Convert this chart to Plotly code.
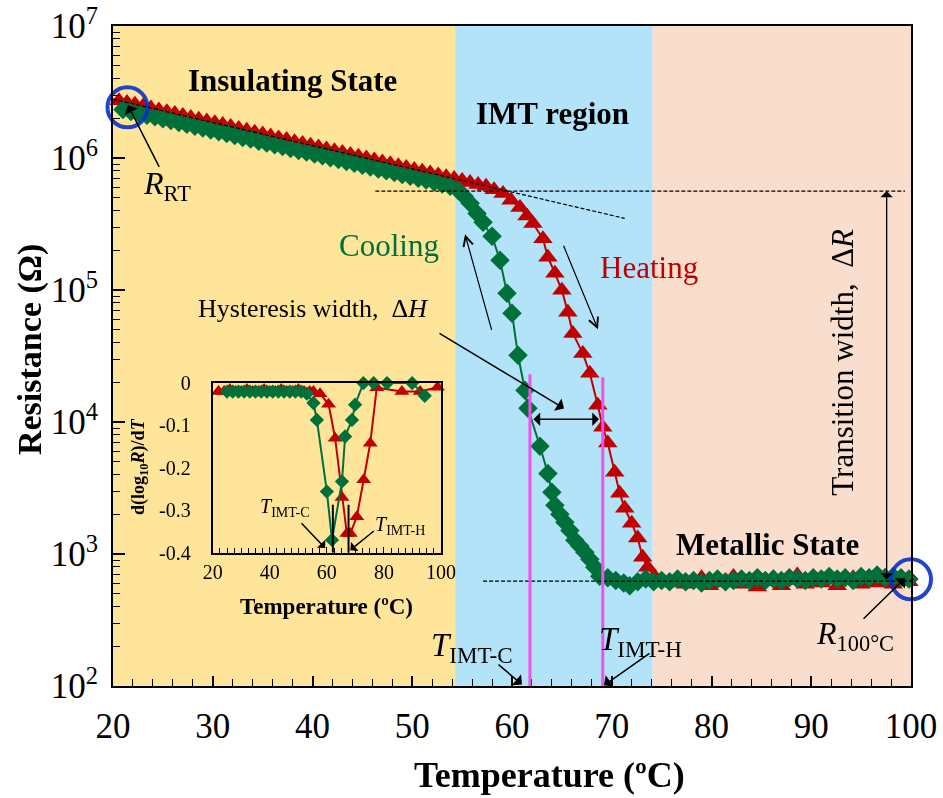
import numpy as np
import plotly.graph_objects as go

SERIF = "Liberation Serif"
RED = "#C00000"
GREEN = "#00703A"
BLUE = "#0A2FCC"
MAGENTA = "#F050F0"

# ---------------- main data: resistance vs temperature ----------------
heat_T = [20.6, 21.4, 22.2, 23.0, 23.8, 24.6, 25.4, 26.2, 27.0, 27.8, 28.6, 29.4,
          30.2, 31.0, 31.8, 32.6, 33.4, 34.2, 35.0, 35.8, 36.6, 37.4, 38.2, 39.0,
          39.8, 40.6, 41.4, 42.2, 43.0, 43.8, 44.6, 45.4, 46.2, 47.0, 47.8, 48.6,
          49.4, 50.2, 51.0, 51.8, 52.6, 53.4, 54.2, 55.0, 55.8, 56.6, 57.4, 58.2,
          59.1, 59.9, 60.8, 61.5, 62.1, 63.1, 63.6, 64.3, 65.0, 65.6, 66.1, 67.1,
          67.8, 68.6, 69.1, 69.6, 70.3, 70.8, 71.3, 72.0, 72.6, 73.1, 73.6, 74.3,
          75.0, 75.8, 76.6, 77.4, 78.2, 79.0, 79.8, 80.6, 81.4, 82.2, 83.0, 83.8,
          84.6, 85.4, 86.2, 87.0, 87.8, 88.6, 89.4, 90.2, 91.0, 91.8, 92.6, 93.4,
          94.2, 95.0, 95.8, 96.6, 97.4, 98.2, 99.0, 99.8]
heat_R = [2.72e6, 2.63e6, 2.55e6, 2.47e6, 2.39e6, 2.31e6, 2.24e6, 2.17e6, 2.10e6, 2.03e6, 1.97e6, 1.91e6,
          1.85e6, 1.79e6, 1.73e6, 1.67e6, 1.62e6, 1.57e6, 1.52e6, 1.47e6, 1.42e6, 1.38e6, 1.33e6, 1.29e6,
          1.25e6, 1.21e6, 1.17e6, 1.135e6, 1.10e6, 1.064e6, 1.03e6, 9.98e5, 9.65e5, 9.34e5, 9.04e5, 8.75e5,
          8.47e5, 8.20e5, 7.94e5, 7.69e5, 7.45e5, 7.21e5, 6.98e5, 6.76e5, 6.53e5, 6.31e5, 6.10e5, 5.75e5,
          5.38e5, 4.79e5, 4.22e5, 3.63e5, 3.19e5, 2.45e5, 1.77e5, 1.34e5, 9.95e4, 6.78e4, 4.68e4, 3.31e4,
          2.34e4, 1.34e4, 9.12e3, 6.92e3, 4.17e3, 2.89e3, 2.22e3, 1.71e3, 1.32e3, 946, 794, 676,
          631, 603, 646, 589, 617, 661, 575, 631, 603, 676, 589, 631,
          562, 617, 661, 575, 631, 692, 589, 646, 603, 676, 575, 631,
          661, 589, 646, 603, 676, 589, 631, 617]

cool_T = [21.0, 21.8, 22.6, 23.4, 24.2, 25.0, 25.8, 26.6, 27.4, 28.2, 29.0, 29.8,
          30.6, 31.4, 32.2, 33.0, 33.8, 34.6, 35.4, 36.2, 37.0, 37.8, 38.6, 39.4,
          40.2, 41.0, 41.8, 42.6, 43.4, 44.2, 45.0, 45.8, 46.6, 47.4, 48.2, 49.0,
          49.8, 50.6, 51.4, 52.2, 53.0, 53.8, 54.6, 55.2, 55.8, 56.5, 57.1, 58.0,
          58.8, 59.5, 60.0, 60.6, 61.3, 61.6, 62.8, 63.6, 64.0, 64.3, 64.8, 65.3,
          65.8, 66.3, 66.8, 67.3, 67.8, 68.3, 68.8, 69.6, 70.4, 71.2, 71.8, 72.6,
          73.4, 74.2, 75.0, 75.8, 76.6, 77.4, 78.2, 79.0, 79.8, 80.6, 81.4, 82.2,
          83.0, 83.8, 84.6, 85.4, 86.2, 87.0, 87.8, 88.6, 89.4, 90.2, 91.0, 91.8,
          92.6, 93.4, 94.2, 95.0, 95.8, 96.6, 97.4, 98.2, 99.0, 99.8]
cool_R = [2.33e6, 2.25e6, 2.18e6, 2.11e6, 2.05e6, 1.98e6, 1.92e6, 1.86e6, 1.80e6, 1.74e6, 1.69e6, 1.63e6,
          1.58e6, 1.53e6, 1.48e6, 1.43e6, 1.39e6, 1.34e6, 1.30e6, 1.26e6, 1.22e6, 1.18e6, 1.14e6, 1.11e6,
          1.07e6, 1.04e6, 1.005e6, 9.73e5, 9.42e5, 9.12e5, 8.83e5, 8.54e5, 8.27e5, 8.00e5, 7.75e5, 7.50e5,
          7.26e5, 7.03e5, 6.80e5, 6.58e5, 6.34e5, 6.10e5, 5.69e5, 5.13e5, 4.54e5, 3.80e5, 3.26e5, 2.55e5,
          1.68e5, 9.44e4, 6.67e4, 3.20e4, 1.74e4, 1.27e4, 6.55e3, 4.08e3, 2.93e3, 2.34e3, 2.00e3, 1.74e3,
          1.51e3, 1.27e3, 1.15e3, 1.03e3, 914, 794, 679, 661, 631, 603, 575, 617,
          646, 617, 631, 617, 646, 617, 631, 603, 631, 646, 617, 631,
          646, 631, 661, 631, 646, 631, 661, 646, 631, 661, 646, 676,
          646, 661, 631, 676, 661, 692, 661, 676, 661, 646]

# ---------------- inset data: d(log10 R)/dT ----------------
dheat_T = [22, 24, 26, 28, 30, 32, 34, 36, 38, 40, 42, 44, 46, 48, 50, 52, 54,
           55.3, 57.6, 60.6, 62.9, 65.3, 67.0, 68.2, 70.5, 72.9, 75.2, 77.5,
           86.3, 92.7, 98.8]
dheat_v = [-0.02, -0.02, -0.015, -0.02, -0.02, -0.015, -0.02, -0.02, -0.015, -0.02, -0.02, -0.015,
           -0.02, -0.02, -0.015, -0.02, -0.02,
           -0.02, -0.025, -0.05, -0.13, -0.27, -0.355, -0.355, -0.315, -0.228, -0.142, -0.011,
           -0.02, -0.02, -0.01]
dcool_T = [25, 27, 29, 31, 33, 35, 37, 39, 41, 43, 45, 47, 49, 51, 53,
           55.3, 56.5, 60.0, 61.8, 65.3, 66.4, 68.8, 69.9, 72.8, 76.4, 81.1, 89.9, 94.3]
dcool_v = [-0.02, -0.02, -0.02, -0.02, -0.02, -0.02, -0.02, -0.02, -0.02, -0.02, -0.02, -0.02,
           -0.02, -0.02, -0.025,
           -0.047, -0.087, -0.256, -0.37, -0.232, -0.126, -0.087, -0.051, 0.0, 0.0, 0.0, 0.0, -0.03]

# ---------------- reference values used by the annotations ----------------
REGIONS = [(20.0, 54.3, "#FFE599"), (54.3, 74.1, "#B2E3F8"), (74.1, 100.0, "#FADECD")]
FIT_T = [20.0, 71.3]
FIT_R = [2.79e6, 3.49e5]
R_TOP = 5.62e5          # upper level of transition width
R_BOTTOM = 624          # metallic level
T_IMT_C, T_IMT_H = 61.8, 69.1
T_INSET_C, T_INSET_H = 62.1, 67.6
RT_POINT = (21.45, 2.42e6)
R100_POINT = (100.0, 643)
X_TICKS = [20, 30, 40, 50, 60, 70, 80, 90, 100]
Y_EXPONENTS = [2, 3, 4, 5, 6, 7]
Y_TICKS = [10.0 ** e for e in Y_EXPONENTS]
Y_TEXT = ["10<sup>%d</sup>" % e for e in Y_EXPONENTS]
Y_MINOR = [m * 10.0 ** e for e in Y_EXPONENTS[:-1] for m in range(2, 10)]
INSET_X_TICKS = [20, 40, 60, 80, 100]
INSET_Y_TICKS = [0, -0.1, -0.2, -0.3, -0.4]
INSET_Y_TEXT = ["0", "-0.1", "-0.2", "-0.3", "-0.4"]

lg = np.log10
fig = go.Figure()

# main curves
fig.add_trace(go.Scatter(x=heat_T, y=heat_R, mode="lines+markers", cliponaxis=False,
                         line=dict(color=RED, width=2),
                         marker=dict(symbol="triangle-up", size=17, color=RED),
                         xaxis="x", yaxis="y", showlegend=False))
fig.add_trace(go.Scatter(x=cool_T, y=cool_R, mode="lines+markers", cliponaxis=False,
                         line=dict(color=GREEN, width=2),
                         marker=dict(symbol="diamond", size=15, color=GREEN),
                         xaxis="x", yaxis="y", showlegend=False))
# circled reference points
fig.add_trace(go.Scatter(x=[RT_POINT[0], R100_POINT[0]], y=[RT_POINT[1], R100_POINT[1]],
                         mode="markers", cliponaxis=False,
                         marker=dict(symbol="circle-open", size=40, color=BLUE,
                                     line=dict(width=4, color=BLUE)),
                         opacity=0.9, xaxis="x", yaxis="y", showlegend=False))

# inset curves
fig.add_trace(go.Scatter(x=dheat_T, y=dheat_v, mode="lines+markers", cliponaxis=False,
                         line=dict(color=RED, width=2),
                         marker=dict(symbol="triangle-up", size=13, color=RED),
                         xaxis="x2", yaxis="y2", showlegend=False))
fig.add_trace(go.Scatter(x=dcool_T, y=dcool_v, mode="lines+markers", cliponaxis=False,
                         line=dict(color=GREEN, width=2),
                         marker=dict(symbol="diamond", size=11, color=GREEN),
                         xaxis="x2", yaxis="y2", showlegend=False))

shapes = []
for x0, x1, col in REGIONS:
    shapes.append(dict(type="rect", xref="x", yref="y", x0=x0, x1=x1, y0=1e2, y1=1e7,
                       fillcolor=col, line=dict(width=0), layer="below"))
dash = dict(color="black", width=1.2, dash="4px,2px")
shapes += [
    dict(type="line", xref="x", yref="y", x0=FIT_T[0], x1=FIT_T[1], y0=FIT_R[0], y1=FIT_R[1], line=dash),
    dict(type="line", xref="x", yref="y", x0=46.3, x1=99.4, y0=R_TOP, y1=R_TOP, line=dash),
    dict(type="line", xref="x", yref="y", x0=57.1, x1=100, y0=R_BOTTOM, y1=R_BOTTOM, line=dash),
    dict(type="line", xref="x", yref="y", x0=T_IMT_C, x1=T_IMT_C, y0=1e2, y1=2.3e4,
         line=dict(color=MAGENTA, width=3)),
    dict(type="line", xref="x", yref="y", x0=T_IMT_H, x1=T_IMT_H, y0=1e2, y1=2.18e4,
         line=dict(color=MAGENTA, width=3)),
    dict(type="line", xref="x2", yref="y2", x0=T_INSET_C, x1=T_INSET_C, y0=-0.4, y1=-0.287,
         line=dict(color="black", width=2)),
    dict(type="line", xref="x2", yref="y2", x0=T_INSET_H, x1=T_INSET_H, y0=-0.4, y1=-0.287,
         line=dict(color="black", width=2)),
]

ann = []


def text(x, y, s, size, color="black", ref=("x", "y"), angle=0):
    ann.append(dict(x=x, y=y, xref=ref[0], yref=ref[1], text=s, showarrow=False,
                    xanchor="center", yanchor="middle", textangle=angle,
                    font=dict(family=SERIF, size=size, color=color)))


def arrow(hx, hy, tx, ty, ref=("x", "y"), head=1, size=1.0, width=1.5, both=False):
    a = dict(x=hx, y=hy, ax=tx, ay=ty, xref=ref[0], yref=ref[1], axref=ref[0], ayref=ref[1],
             text="", showarrow=True, arrowhead=head, arrowsize=size, arrowwidth=width,
             arrowcolor="black", standoff=0, startstandoff=0)
    if both:
        a.update(arrowside="end+start", startarrowhead=head, startarrowsize=size)
    ann.append(a)


NB = "\u00a0"
text(37.95, 6.589, "<b>Insulating State</b>", 31)
text(64.1, 6.339, "<b>IMT region</b>", 31)
text(85.6, 3.07, "<b>Metallic State</b>", 31)
text(47.67, 5.337, "Cooling", 31, GREEN)
text(73.73, 5.171, "Heating", 31, RED)
text(40.05, 4.86, "Hysteresis width," + NB + NB + "Δ<i>H</i>", 26)
text(25.46, 5.79, "<i>R</i><sub>RT</sub>", 32)
text(94.4, 2.38, "<i>R</i><sub>100°C</sub>", 32)
text(56.0, 2.29, "<i>T</i><sub>IMT-C</sub>", 33)
text(72.85, 2.34, "<i>T</i><sub>IMT-H</sub>", 33)
text(93.1, 4.45, "Transition width," + NB + NB + "Δ<i>R</i>", 31, angle=-90)
text(45.4, -0.294, "<i>T</i><sub>IMT-C</sub>", 20, ref=("x2", "y2"))
text(85.8, -0.337, "<i>T</i><sub>IMT-H</sub>", 20, ref=("x2", "y2"))

arrow(21.5, 6.399, 24.71, 5.922, size=1.6)
arrow(99.4, 2.816, 95.09, 2.498, size=1.6)
arrow(61.0, 2.012, 58.5, 2.171, size=1.6)
arrow(69.22, 2.005, 73.93, 2.255, size=1.6)
arrow(65.21, 4.103, 52.58, 4.679, size=1.6)
arrow(55.29, 5.422, 58.0, 4.687, head=5, size=1.6, width=1.2)
arrow(68.62, 4.702, 65.11, 5.346, head=5, size=1.6, width=1.2)
arrow(97.56, lg(R_TOP), 97.56, lg(R_BOTTOM), size=1.6, width=1.3, both=True)
arrow(68.72, 4.02, 62.0, 4.02, size=1.5, width=1.5, both=True)
arrow(59.4, -0.389, 50.6, -0.327, ref=("x2", "y2"), size=1.3)
arrow(68.2, -0.394, 77.0, -0.346, ref=("x2", "y2"), size=1.3)


def paper_text(x, y, s, size, angle=0):
    ann.append(dict(x=x, y=y, xref="paper", yref="paper", showarrow=False, text=s,
                    xanchor="center", yanchor="middle", textangle=angle,
                    font=dict(family=SERIF, size=size, color="black")))


# axis titles
paper_text(0.5476, -0.1348, "<b>Temperature (ºC)</b>", 36)
paper_text(-0.104, 0.509, "<b>Resistance (Ω)</b>", 34, angle=-90)
paper_text(0.268, 0.1197, "<b>Temperature (ºC)</b>", 23)
paper_text(0.034, 0.332, "<b>d(log<sub>10</sub><i>R</i>)/d<i>T</i></b>", 18, angle=-90)

axis_font = dict(family=SERIF, size=35, color="black")
fig.update_layout(
    width=943, height=798,
    margin=dict(l=113, r=32, t=26, b=112, autoexpand=False),
    paper_bgcolor="white", plot_bgcolor="rgba(0,0,0,0)",
    shapes=shapes, annotations=ann,
    xaxis=dict(domain=[0, 1], range=[20, 100], tickmode="array", tickvals=X_TICKS,
               ticks="inside", ticklen=10, tickwidth=1.5, tickcolor="black",
               minor=dict(tickmode="linear", tick0=20, dtick=2, ticks="inside", ticklen=7,
                          tickwidth=1.3, tickcolor="black", showgrid=False),
               showline=True, linewidth=2, linecolor="black", mirror=True, automargin=False,
               showgrid=False, zeroline=False, tickfont=axis_font, ticklabelstandoff=8),
    yaxis=dict(domain=[0, 1], type="log", range=[2, 7], tickmode="array",
               tickvals=Y_TICKS, ticktext=Y_TEXT,
               ticks="inside", ticklen=12, tickwidth=1.5, tickcolor="black",
               minor=dict(tickmode="array", tickvals=Y_MINOR, ticks="inside", ticklen=7,
                          tickwidth=1.3, tickcolor="black", showgrid=False),
               showline=True, linewidth=2, linecolor="black", mirror=True, automargin=False,
               showgrid=False, zeroline=False, tickfont=axis_font, ticklabelstandoff=6),
    xaxis2=dict(domain=[0.125, 0.411], anchor="y2", range=[20, 100], tickmode="array",
                tickvals=INSET_X_TICKS, ticks="inside", ticklen=6, tickwidth=1.3, tickcolor="black",
                minor=dict(tickmode="linear", tick0=20, dtick=2.5, ticks="inside", ticklen=5,
                           tickwidth=1.2, tickcolor="black", showgrid=False),
                showline=True, linewidth=2, linecolor="black", mirror=True, automargin=False,
                showgrid=False, zeroline=False,
                tickfont=dict(family=SERIF, size=20, color="black")),
    yaxis2=dict(domain=[0.202, 0.459], anchor="x2", range=[-0.4, 0], tickmode="array",
                tickvals=INSET_Y_TICKS, ticktext=INSET_Y_TEXT, ticks="",
                showline=True, linewidth=2, linecolor="black", mirror=True, automargin=False,
                showgrid=False, zeroline=False, ticklabelstandoff=16,
                tickfont=dict(family=SERIF, size=20, color="black")),
)

fig.write_html("out.html")
